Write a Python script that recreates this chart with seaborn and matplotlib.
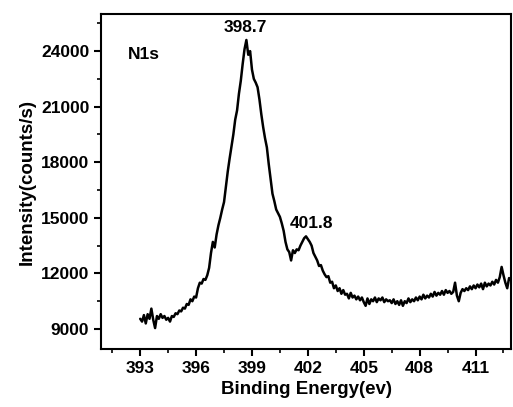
import matplotlib
matplotlib.use("Agg")
import matplotlib.pyplot as plt
from matplotlib.ticker import MultipleLocator
import numpy as np
import pandas as pd
import seaborn as sns

binding_energy = [
    393.0, 393.1, 393.2, 393.3, 393.4, 393.5, 393.6, 393.7, 393.8, 393.9,
    394.0, 394.1, 394.2, 394.3, 394.4, 394.5, 394.6, 394.7, 394.8, 394.9,
    395.0, 395.1, 395.2, 395.3, 395.4, 395.5, 395.6, 395.7, 395.8, 395.9,
    396.0, 396.1, 396.2, 396.3, 396.4, 396.5, 396.6, 396.7, 396.8, 396.9,
    397.0, 397.1, 397.2, 397.3, 397.4, 397.5, 397.6, 397.7, 397.8, 397.9,
    398.0, 398.1, 398.2, 398.3, 398.4, 398.5, 398.6, 398.7, 398.8, 398.9,
    399.0, 399.1, 399.2, 399.3, 399.4, 399.5, 399.6, 399.7, 399.8, 399.9,
    400.0, 400.1, 400.2, 400.3, 400.4, 400.5, 400.6, 400.7, 400.8, 400.9,
    401.0, 401.1, 401.2, 401.3, 401.4, 401.5, 401.6, 401.7, 401.8, 401.9,
    402.0, 402.1, 402.2, 402.3, 402.4, 402.5, 402.6, 402.7, 402.8, 402.9,
    403.0, 403.1, 403.2, 403.3, 403.4, 403.5, 403.6, 403.7, 403.8, 403.9,
    404.0, 404.1, 404.2, 404.3, 404.4, 404.5, 404.6, 404.7, 404.8, 404.9,
    405.0, 405.1, 405.2, 405.3, 405.4, 405.5, 405.6, 405.7, 405.8, 405.9,
    406.0, 406.1, 406.2, 406.3, 406.4, 406.5, 406.6, 406.7, 406.8, 406.9,
    407.0, 407.1, 407.2, 407.3, 407.4, 407.5, 407.6, 407.7, 407.8, 407.9,
    408.0, 408.1, 408.2, 408.3, 408.4, 408.5, 408.6, 408.7, 408.8, 408.9,
    409.0, 409.1, 409.2, 409.3, 409.4, 409.5, 409.6, 409.7, 409.8, 409.9,
    410.0, 410.1, 410.2, 410.3, 410.4, 410.5, 410.6, 410.7, 410.8, 410.9,
    411.0, 411.1, 411.2, 411.3, 411.4, 411.5, 411.6, 411.7, 411.8, 411.9,
    412.0, 412.1, 412.2, 412.3, 412.4, 412.5, 412.6, 412.7, 412.8, 412.9,
    413.0,
]

intensity = [
    9550, 9400, 9750, 9300, 9800, 9550, 10100, 9500, 9050, 9700,
    9550, 9800, 9600, 9700, 9500, 9600, 9400, 9700, 9650, 9850,
    9800, 10000, 9950, 10150, 10100, 10350, 10300, 10600, 10500, 10750,
    10700, 11200, 11500, 11450, 11700, 11650, 11900, 12300, 13100, 13700,
    13400, 14100, 14600, 15000, 15450, 15850, 16700, 17500, 18200, 18850,
    19500, 20300, 20800, 21700, 22400, 23300, 24100, 24600, 23800, 24000,
    23000, 22500, 22300, 22050, 21400, 20600, 19900, 19300, 18800, 17900,
    17100, 16300, 15900, 15450, 15250, 15050, 14700, 14300, 13700, 13300,
    13150, 12700, 13250, 13100, 13300, 13250, 13500, 13700, 13900, 14000,
    13850, 13700, 13500, 13100, 12900, 12700, 12400, 12450, 12150, 11950,
    11800, 11850, 11500, 11550, 11200, 11350, 11050, 11200, 10900, 11100,
    10850, 10900, 10650, 10950, 10700, 10800, 10600, 10750, 10550, 10700,
    10450, 10250, 10650, 10350, 10600, 10500, 10700, 10450, 10650, 10550,
    10700, 10450, 10600, 10500, 10550, 10400, 10600, 10350, 10500, 10300,
    10550, 10250, 10500, 10400, 10650, 10450, 10600, 10500, 10700, 10550,
    10750, 10600, 10850, 10650, 10800, 10700, 10900, 10750, 11000, 10800,
    10950, 10850, 11050, 10850, 11100, 10950, 11050, 10900, 11000, 11500,
    10800, 10500, 10950, 11150, 11050, 11200, 11100, 11300, 11150, 11350,
    11200, 11400, 11250, 11450, 11150, 11500, 11300, 11450, 11350, 11550,
    11400, 11650, 11500, 11800, 12350, 11900, 11500, 11200, 11750, 11650,
    11800,
]

x_ticks = [393, 396, 399, 402, 405, 408, 411]
y_ticks = [9000, 12000, 15000, 18000, 21000, 24000]
peak_labels = ["398.7", "401.8"]
peak_label_pos = [(398.62, 25300), (402.19, 14720)]
sample_label = "N1s"

sns.set_theme(style="ticks")
plt.rcParams["font.family"] = ["Liberation Sans", "DejaVu Sans"]
plt.rcParams["font.weight"] = "bold"
plt.rcParams["text.color"] = "black"
plt.rcParams["axes.labelcolor"] = "black"
plt.rcParams["xtick.color"] = "black"
plt.rcParams["ytick.color"] = "black"

fig = plt.figure(figsize=(5.13, 4.07), dpi=100)
ax = fig.add_axes([0.197, 0.1425, 0.799, 0.823])

df = pd.DataFrame({"be": binding_energy, "inten": intensity})
sns.lineplot(data=df, x="be", y="inten", ax=ax, color="black", linewidth=1.8)

ax.set_xlim(390.9, 412.9)
ax.set_ylim(7920, 26000)
ax.set_xticks(x_ticks)
ax.set_xticklabels([str(t) for t in x_ticks])
ax.set_yticks(y_ticks)
ax.set_yticklabels([str(t) for t in y_ticks])
ax.xaxis.set_minor_locator(MultipleLocator(1.5))
ax.yaxis.set_minor_locator(MultipleLocator(1500))

for side in ["left", "bottom", "top", "right"]:
    ax.spines[side].set_visible(True)
    ax.spines[side].set_linewidth(1.5)
    ax.spines[side].set_color("black")

ax.tick_params(axis="both", which="major", direction="out", length=5, width=1.5,
               labelsize=12.5, colors="black", top=False, right=False)
ax.tick_params(axis="both", which="minor", direction="out", length=3, width=1.2,
               colors="black", top=False, right=False)
for lab in ax.get_xticklabels() + ax.get_yticklabels():
    lab.set_fontweight("bold")

ax.set_xlabel("Binding Energy(ev)", fontsize=13.5, fontweight="bold", labelpad=4, color="black")
ax.set_ylabel("Intensity(counts/s)", fontsize=13.5, fontweight="bold", labelpad=4, color="black")

for txt, (px, py) in zip(peak_labels, peak_label_pos):
    ax.text(px, py, txt, ha="center", va="center", fontsize=12.5, fontweight="bold", color="black")
ax.text(392.36, 23840, sample_label, ha="left", va="center", fontsize=12.5, fontweight="bold", color="black")

fig.savefig("out.png", dpi=100)
